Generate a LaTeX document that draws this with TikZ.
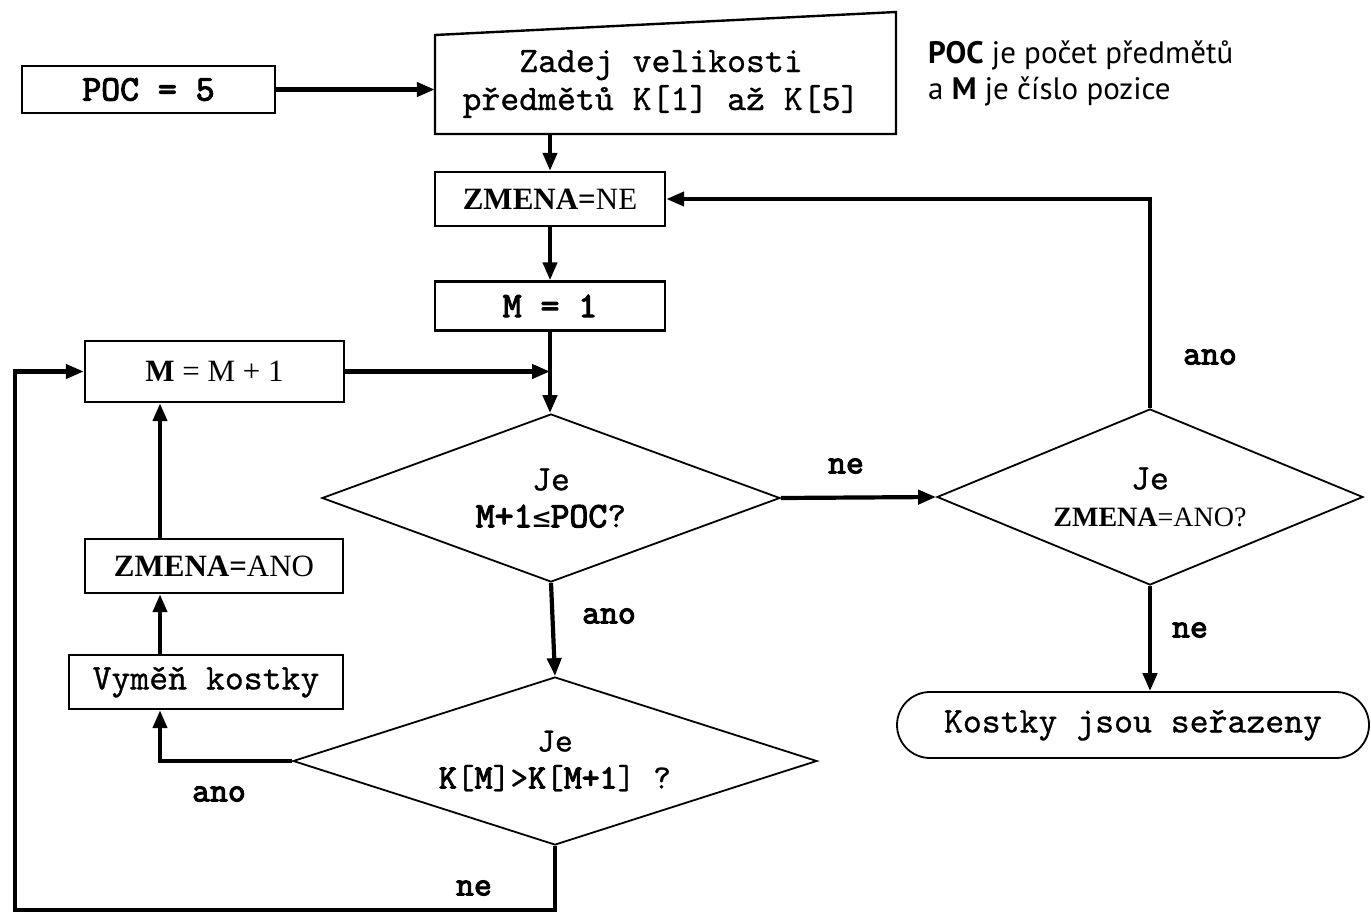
\documentclass[tikz,border=0pt]{standalone}
\usepackage{fontspec}
\setmainfont{Liberation Serif}
\setmonofont{lmmono10-regular}[Extension=.otf,FakeBold=0.8,BoldFont=lmmono10-regular,BoldFeatures={FakeBold=3}]
\newfontfamily\notefont{PT Sans}
\newfontfamily\symfont{DejaVu Sans Mono}
\usetikzlibrary{shapes.geometric,shapes.misc,arrows.meta}
\begin{document}
\begin{tikzpicture}[x=1pt,y=-1pt,
  box/.style={draw,line width=2.4pt,rectangle,inner sep=0pt,font=\fontsize{36}{38}\selectfont\ttfamily},
  dia/.style={draw,line width=1.8pt,diamond,inner sep=0pt,align=center,font=\fontsize{36}{37}\selectfont\ttfamily},
  arr/.style={line width=4.2pt,-{Triangle[length=18pt,width=14pt]}},
  lbl/.style={font=\fontsize{34}{34}\selectfont\ttfamily\bfseries,inner sep=0pt},
  note/.style={font=\fontsize{31}{36}\selectfont\notefont,inner sep=0pt,anchor=base west},
]
\useasboundingbox (0,0) rectangle (1371,915);
\fill[white] (0,0) rectangle (1371,915);

% nodes
\node[box,minimum width=253pt,minimum height=47pt] (poc) at (148.5,89.5) {\bfseries POC = 5};
\draw[line width=2.4pt] (435,35) -- (896,12) -- (896,134) -- (435,134) -- cycle;
\node[inner sep=0pt,minimum width=452pt,minimum height=100pt,align=center,
      font=\fontsize{36}{38}\selectfont\ttfamily] (input) at (661,84) {Zadej velikosti\\předmětů K[1] až K[5]};
\node[note] (note1) at (928,64) {\textbf{POC} je počet předmětů};
\node[note] (note2) at (928,100) {a \textbf{M} je číslo pozice};

\node[box,minimum width=230pt,minimum height=54pt,font=\fontsize{31}{37}\selectfont\rmfamily] (zne) at (550,199) {\textbf{ZMENA=}NE};
\node[box,minimum width=230pt,minimum height=49pt] (m1) at (550,306) {\bfseries M = 1};
\node[box,minimum width=259pt,minimum height=61pt,font=\fontsize{31}{37}\selectfont\rmfamily] (mm1) at (214.5,371.5) {\textbf{M} = M + 1};

\node[dia,aspect=2.7,minimum width=458pt,minimum height=168pt] (d1) at (551,498) {Je\\\textbf{M+1}{\symfont\fontsize{30}{37}\selectfont ≤}\textbf{POC}?};
\node[dia,aspect=2.4,minimum width=426pt,minimum height=176pt] (d2) at (1150,497) {Je\\{\rmfamily\fontsize{28}{37}\selectfont\textbf{ZMENA}=ANO?}};
\node[dia,aspect=3.1,minimum width=524pt,minimum height=168pt,font=\fontsize{34}{37}\selectfont\ttfamily] (d3) at (555,761) {Je\\\textbf{K}[\textbf{M}]>\textbf{K}[\textbf{M+1}] ?};

\node[draw,rounded rectangle,line width=1.8pt,inner sep=0pt,minimum width=472pt,minimum height=66pt,
      font=\fontsize{36}{38}\selectfont\ttfamily] (term) at (1133,725) {Kostky jsou seřazeny};

\node[box,minimum width=274pt,minimum height=54pt] (vym) at (206,682) {Vyměň kostky};
\node[box,minimum width=258pt,minimum height=54pt,font=\fontsize{31}{37}\selectfont\rmfamily] (zano) at (214,566) {\textbf{ZMENA=}ANO};

\coordinate (lc) at (160,0);
\coordinate (bl) at (15,910);

% connectors
\draw[arr] (poc.east) -- (poc.east -| input.west);
\draw[arr] (zne.north |- input.south) -- (zne.north);
\draw[arr] (zne.south) -- (m1.north);
\draw[arr] (m1.south) -- (m1.south |- d1.north);
\draw[arr] (mm1.east) -- (mm1.east -| m1.south);
\draw[arr] (d1.east) -- (d2.west);
\draw[arr] (d2.north) -- (d2.north |- zne.east) -- (zne.east);
\draw[arr] (d2.south) -- (d2.south |- term.north);
\draw[arr] (d1.south) -- (d3.north);
\draw[arr] (d3.west) -- (d3.west -| lc) -- (lc |- vym.south);
\draw[arr] (lc |- vym.north) -- (lc |- zano.south);
\draw[arr] (lc |- zano.north) -- (lc |- mm1.south);
\draw[arr] (d3.south) -- (d3.south |- bl) -- (bl) -- (bl |- mm1.west) -- (mm1.west);

% labels
\node[lbl] (l1) at (846,466) {ne};
\node[lbl] (l2) at (1210,357) {ano};
\node[lbl] (l3) at (1190,630) {ne};
\node[lbl] (l4) at (609,616) {ano};
\node[lbl] (l5) at (219,794) {ano};
\node[lbl] (l6) at (474,888) {ne};
\end{tikzpicture}
\end{document}
